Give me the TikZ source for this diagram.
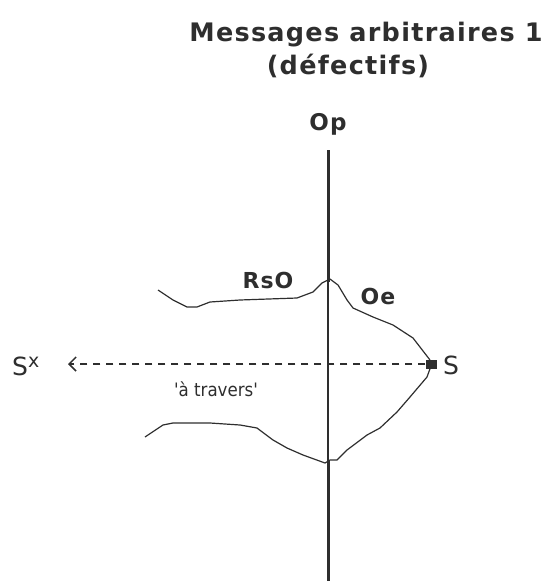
\documentclass[tikz,border=0pt]{standalone}
\usepackage{fontspec}
\setmainfont{DejaVu Sans}
\newfontfamily\macbold[LetterSpace=5]{DejaVu Sans Bold}
\newfontfamily\macreg[LetterSpace=5]{DejaVu Sans}
\newfontfamily\smallf{DejaVu Sans Condensed}
\usetikzlibrary{arrows.meta}
\definecolor{ink}{HTML}{2E2E2E}
\begin{document}
\begin{tikzpicture}[x=1pt,y=-1pt,
  lbl/.style={inner sep=0pt,text=ink,font=\macbold},
  curve/.style={draw=ink,line width=1.2pt,line join=round},
  axis/.style={draw=ink,line width=3pt}]
\useasboundingbox (0,0) rectangle (547,581);
% title
\node[lbl,font=\macbold\fontsize{25.5}{28}\selectfont] (t1) at (366,35) {Messages arbitraires 1};
\node[lbl,font=\macbold\fontsize{25.5}{28}\selectfont] (t2) at (348,66) {(défectifs)};
\node[lbl,font=\macbold\fontsize{23}{26}\selectfont] (op) at (328,124) {Op};
% vertical axis
\coordinate (a0) at (328,150);
\coordinate (a1) at (328,282);
\coordinate (a2) at (328,460);
\coordinate (a3) at (328,581);
\draw[axis] (a0) -- (a1);
\draw[draw=ink,line width=1.5pt] (a1) -- (a2);
\draw[axis] (a2) -- (a3);
% top curve
\draw[curve] (158,290) -- (173,300) -- (187,307) -- (197,307) -- (210,302) -- (240,300) -- (297,298) -- (313,292) -- (322,283) -- (330,279) -- (338,285) -- (347,300) -- (353,308) -- (373,317) -- (393,325) -- (413,338) -- (430,360);
% bottom curve
\draw[curve] (145,437) -- (163,425) -- (173,423) -- (210,423) -- (240,425) -- (257,428) -- (273,440) -- (287,448) -- (303,455) -- (325,463) -- (330,460) -- (337,460) -- (347,450) -- (367,435) -- (380,428) -- (397,412) -- (410,397) -- (427,377) -- (431,366);
% S point
\node[fill=ink,minimum width=11pt,minimum height=9pt,inner sep=0pt] (s) at (431,364) {};
\node[lbl,font=\macreg\fontsize{25}{28}\selectfont,anchor=west] (sl) at (443,365) {S};
\node[lbl,font=\macreg\fontsize{25}{28}\selectfont,anchor=west] (sx) at (12,366) {S\raisebox{8pt}{\fontsize{19}{20}\selectfont x}};
\coordinate (tip) at (68,364);
\draw[draw=ink,line width=1.3pt,dash pattern=on 7pt off 6pt,-{Straight Barb[length=7pt,width=14pt,line width=1.5pt]}] (s.west) -- (tip);
\node[lbl,font=\smallf\fontsize{18.5}{20}\selectfont] (at) at (216,389) {'à travers'};
\node[lbl,font=\macbold\fontsize{22}{24}\selectfont] (rso) at (268,280) {RsO};
\node[lbl,font=\macbold\fontsize{22}{24}\selectfont] (oe) at (378,296) {Oe};
\end{tikzpicture}
\end{document}
